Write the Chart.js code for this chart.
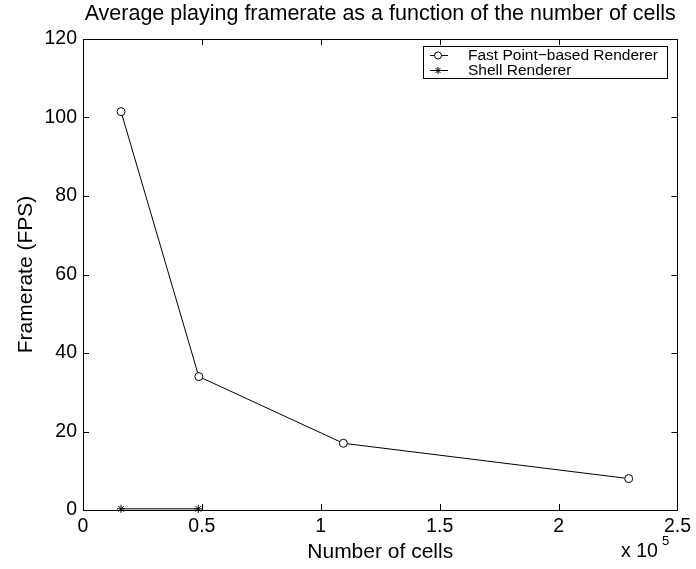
<!DOCTYPE html>
<html lang="en">
<head>
  <meta charset="UTF-8">
  <title>Framerate chart</title>
  <script src="https://cdn.jsdelivr.net/npm/chart.js"></script>
  <style>
    html, body { margin: 0; padding: 0; background: #fff; }
    #box { width: 696px; height: 569px; }
  </style>
</head>
<body>
  <div id="box"><canvas id="grafico"></canvas></div>
<script>
  // data (x in cells, y in FPS)
  var celulas_fast = [16000, 48700, 109500, 229500];
  var fps_fast = [101.5, 34, 17, 8];
  var celulas_shell = [16000, 48500];
  var fps_shell = [0.3, 0.3];
  var rotulos = ['Fast Point\u2212based Renderer', 'Shell Renderer'];
  var xTicks = [0, 0.5, 1, 1.5, 2, 2.5];
  var yTicks = [0, 20, 40, 60, 80, 100, 120];

  var fonte = 'Liberation Sans, Arial, Helvetica, sans-serif';

  function pontos(xs, ys) {
    var lista = [];
    for (var i = 0; i < xs.length; i++) lista.push({ x: xs[i], y: ys[i] });
    return lista;
  }

  // MATLAB style box: inward ticks on all four sides, legend box, x 10^5
  var caixaMatlab = {
    id: 'caixaMatlab',
    afterDraw: function (chart) {
      var ctx = chart.ctx;
      var a = chart.chartArea;
      var sx = chart.scales.x, sy = chart.scales.y;
      ctx.save();
      ctx.strokeStyle = '#000';
      ctx.lineWidth = 1;
      ctx.strokeRect(Math.round(a.left) + 0.5, Math.round(a.top) + 0.5,
        Math.round(a.right - a.left), Math.round(a.bottom - a.top));
      ctx.beginPath();
      xTicks.forEach(function (t) {
        var px = Math.round(sx.getPixelForValue(t * 1e5)) + 0.5;
        ctx.moveTo(px, a.bottom); ctx.lineTo(px, a.bottom - 6);
        ctx.moveTo(px, a.top); ctx.lineTo(px, a.top + 6);
      });
      yTicks.forEach(function (t) {
        var py = Math.round(sy.getPixelForValue(t)) + 0.5;
        ctx.moveTo(a.left, py); ctx.lineTo(a.left + 6, py);
        ctx.moveTo(a.right, py); ctx.lineTo(a.right - 6, py);
      });
      ctx.stroke();

      // x 10^5
      ctx.fillStyle = '#000';
      ctx.textBaseline = 'alphabetic';
      ctx.textAlign = 'left';
      ctx.font = '19.5px ' + fonte;
      ctx.fillText('x 10', 621, 557);
      ctx.font = '13px ' + fonte;
      ctx.fillText('5', 662, 545);

      // legend
      var lx = 423, ly = 46, lw = 244, lh = 32;
      ctx.fillStyle = '#fff';
      ctx.fillRect(lx, ly, lw, lh);
      ctx.strokeRect(lx + 0.5, ly + 0.5, lw, lh);
      ctx.font = '15.5px ' + fonte;
      chart.data.datasets.forEach(function (ds, i) {
        var yy = ly + 9 + i * 15;
        ctx.beginPath();
        ctx.moveTo(lx + 7, yy + 0.5); ctx.lineTo(lx + 25, yy + 0.5);
        ctx.stroke();
        Chart.helpers.drawPoint(ctx, {
          pointStyle: ds.pointStyle, radius: 3.5, borderWidth: 1, rotation: 0
        }, lx + 15, yy + 0.5);
        ctx.fillStyle = '#000';
        ctx.textBaseline = 'middle';
        ctx.fillText(ds.label, lx + 45, yy + 1);
        ctx.fillStyle = '#fff';
      });
      ctx.restore();
    }
  };

  new Chart(document.getElementById('grafico'), {
    type: 'scatter',
    data: {
      datasets: [{
        label: rotulos[0],
        data: pontos(celulas_fast, fps_fast),
        showLine: true,
        borderColor: '#000',
        backgroundColor: '#fff',
        borderWidth: 1,
        pointStyle: 'circle',
        pointRadius: 4,
        pointBorderWidth: 1,
        clip: false
      }, {
        label: rotulos[1],
        data: pontos(celulas_shell, fps_shell),
        showLine: true,
        borderColor: '#000',
        backgroundColor: '#000',
        borderWidth: 1,
        pointStyle: 'star',
        pointRadius: 4,
        pointBorderWidth: 1,
        clip: false
      }]
    },
    options: {
      responsive: true,
      maintainAspectRatio: false,
      animation: false,
      layout: { padding: { top: 0, right: 16, bottom: 0, left: 0 } },
      plugins: {
        legend: { display: false },
        tooltip: { enabled: false },
        title: {
          display: true,
          fullSize: false,
          text: 'Average playing framerate as a function of the number of cells',
          color: '#000',
          font: { family: fonte, size: 21.5, weight: 'normal' },
          padding: { top: 1.2, bottom: 12 }
        }
      },
      scales: {
        x: {
          type: 'linear',
          min: 0,
          max: 250000,
          afterBuildTicks: function (s) {
            s.ticks = xTicks.map(function (t) { return { value: t * 1e5 }; });
          },
          afterFit: function (s) { s.height = 59; },
          grid: { display: false, drawTicks: false },
          border: { display: true, color: '#000' },
          ticks: {
            color: '#000',
            padding: 5,
            maxRotation: 0,
            font: { family: fonte, size: 19.5 },
            callback: function (v) { return String(v / 1e5); }
          },
          title: {
            display: true,
            text: 'Number of cells',
            color: '#000',
            font: { family: fonte, size: 21 },
            padding: { top: 0, bottom: 4 }
          }
        },
        y: {
          min: 0,
          max: 120,
          afterBuildTicks: function (s) {
            s.ticks = yTicks.map(function (t) { return { value: t }; });
          },
          afterFit: function (s) { s.width = 83; },
          grid: { display: false, drawTicks: false },
          border: { display: true, color: '#000' },
          ticks: {
            color: '#000',
            padding: 6,
            font: { family: fonte, size: 19.5 },
            callback: function (v) { return String(v); }
          },
          title: {
            display: true,
            text: 'Framerate (FPS)',
            color: '#000',
            font: { family: fonte, size: 21 },
            padding: { top: 14, bottom: 0 }
          }
        }
      }
    },
    plugins: [caixaMatlab]
  });
</script>
</body>
</html>
